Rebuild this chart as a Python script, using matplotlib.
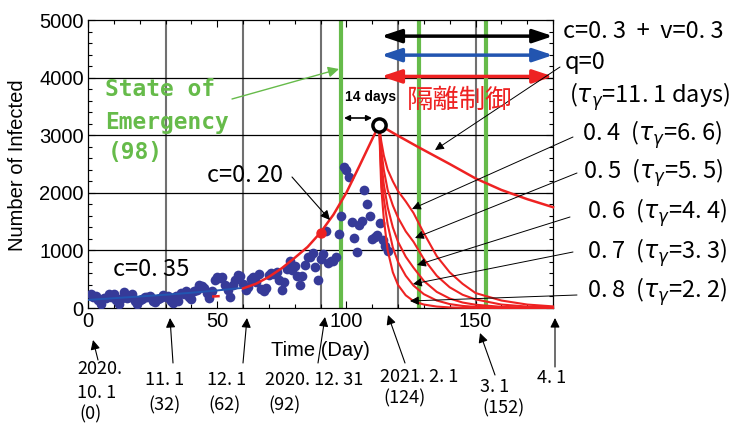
import matplotlib
matplotlib.use("Agg")
import matplotlib.pyplot as plt

plt.rcParams['font.family'] = ['Liberation Sans', 'DejaVu Sans']
JP = ['Noto Sans CJK JP', 'DejaVu Sans']

# observed daily infected (day 1 = 2020.10.1)
cases = [235, 196, 207, 143, 78, 172, 177, 248, 186, 246, 146, 78, 166, 284, 172, 184,
         235, 124, 78, 139, 150, 185, 186, 214, 113, 102, 158, 171, 221, 199, 215,
         116, 87, 209, 122, 269, 242, 294, 189, 157, 293, 317, 393, 374, 352, 255, 180,
         298, 493, 534, 522, 539, 391, 314, 186, 401, 481, 570, 561, 418, 311,
         372, 500, 533, 449, 584, 327, 299, 352, 572, 602, 595, 621, 480, 305, 460, 678,
         822, 664, 736, 556, 392, 563, 748, 888, 884, 949, 708, 481, 856, 944, 1337,
         783, 814, 816, 884, 1278, 1591, 2447, 2392, 2268, 1494, 1219, 970, 1433, 1502,
         2044, 1809, 1592, 1204, 1240, 1274, 1471, 1175, 1070, 986]
days = list(range(1, len(cases) + 1))

# model c=0.35
fit_days = [0, 10, 20, 30, 40, 50, 60]
fit_vals = [140, 170, 200, 230, 265, 305, 350]

# model c=0.20
grow_days = [60, 65, 70, 75, 80, 85, 90, 95, 100, 105, 110, 112.7]
grow_vals = [340, 420, 540, 690, 870, 1060, 1310, 1620, 2000, 2460, 2930, 3180]

peak = (112.7, 3180)

# q = 0
q0_days = [112.7, 120, 128, 140, 150, 160, 170, 180]
q0_vals = [3180, 2990, 2790, 2500, 2250, 2050, 1890, 1750]

# q = 0.4 ... 0.8
dec_days = [112.7, 113.5, 114.5, 116, 118, 120, 123, 126, 130, 135, 140, 145, 150, 160, 170, 180]
dec_q04 = [3180, 2900, 2650, 2400, 2200, 2030, 1850, 1650, 1300, 900, 620, 420, 260, 130, 60, 28]
dec_q05 = [3180, 2750, 2400, 2050, 1780, 1570, 1330, 1150, 850, 560, 360, 230, 150, 60, 25, 10]
dec_q06 = [3180, 2550, 2150, 1750, 1400, 1150, 890, 700, 470, 280, 165, 95, 57, 20, 7, 3]
dec_q07 = [3180, 2350, 1900, 1450, 1050, 800, 560, 390, 240, 130, 68, 36, 20, 6, 2, 1]
dec_q08 = [3180, 2100, 1550, 1000, 620, 400, 220, 120, 60, 25, 10, 4, 2, 0, 0, 0]

grid_x = [30, 60, 90, 120, 150]
grid_y = [1000, 2000, 3000, 4000]
green_x = [98, 128, 154]

TG = r"$\tau_\gamma$"
right_labels = ["c=0. 3  +  v=0. 3", "q=0", "(" + TG + "=11. 1 days)",
                "0. 4  (" + TG + "=6. 6)", "0. 5  (" + TG + "=5. 5)", "0. 6  (" + TG + "=4. 4)",
                "0. 7  (" + TG + "=3. 3)", "0. 8  (" + TG + "=2. 2)"]
date_lines = [["2020.", "10. 1", "(0)"], ["11. 1", "(32)"], ["12. 1", "(62)"],
              ["2020. 12. 31", "(92)"], ["2021. 2. 1", "(124)"], ["3. 1", "(152)"], ["4. 1"]]

RED = '#ee2222'
GREEN = '#66bb4a'
BLUE = '#2255b0'

W, H = 735, 425
def fp(x, y):
    return (x / W, 1 - y / H)

fig = plt.figure(figsize=(7.35, 4.25), dpi=100)
ax = fig.add_axes([88 / W, 1 - 308 / H, 465 / W, 288 / H])
ax.set_xlim(0, 180)
ax.set_ylim(0, 5000)
ax.set_xticks([0, 50, 100, 150])
ax.set_xticks(range(0, 181, 10), minor=True)
ax.set_yticks(range(0, 5001, 1000))
ax.set_yticks(range(0, 5001, 200), minor=True)
ax.tick_params(which='both', direction='in', top=True, right=True, labelsize=14.5, width=0.8)
ax.tick_params(which='major', length=5, pad=3)
ax.tick_params(which='minor', length=3)
for s in ax.spines.values():
    s.set_linewidth(0.9)

for x in grid_x:
    ax.axvline(x, color='#707070', lw=1.5, zorder=1)
for y in grid_y:
    ax.axhline(y, color='black', lw=0.9, zorder=1)
for x in green_x:
    ax.axvline(x, color=GREEN, lw=3, zorder=2)

ax.plot(days, cases, 'o', color='#363a98', ms=7, mec='none', zorder=3)
ax.plot(fit_days, fit_vals, color=BLUE, lw=1.4, zorder=4)
ax.plot(grow_days, grow_vals, color=RED, lw=1.8, zorder=4)
ax.plot([48.5, 50.5], [200, 205], color=RED, lw=1.8, zorder=4)
ax.plot(90, 1310, 'o', color=RED, ms=6.5, zorder=4)
ax.plot(q0_days, q0_vals, color=RED, lw=1.8, zorder=4, clip_on=False)
for v in [dec_q04, dec_q05, dec_q06, dec_q07, dec_q08]:
    ax.plot(dec_days, v, color=RED, lw=1.5, zorder=4, clip_on=False)
ax.plot(*peak, 'o', mfc='white', mec='black', mew=2.5, ms=9.5, zorder=6)

# double arrows at top
for yv, col in [(4720, 'black'), (4390, BLUE), (4020, RED)]:
    ax.annotate('', xy=(180, yv), xytext=(113.5, yv),
                arrowprops=dict(arrowstyle='<|-|>,head_length=0.6,head_width=0.2',
                                color=col, lw=2.5, mutation_scale=20, shrinkA=0, shrinkB=0),
                annotation_clip=False, zorder=7)

def arrow(p0, p1, col='black', lw=0.8, ms=14):
    ax.annotate('', xy=fp(*p1), xycoords='figure fraction', xytext=fp(*p0),
                textcoords='figure fraction',
                arrowprops=dict(arrowstyle='-|>', color=col, lw=lw, mutation_scale=ms,
                                shrinkA=0, shrinkB=0), zorder=8)

# 14 days
fig.text(*fp(371, 97), "14 days", fontsize=10, fontweight='bold', ha='center', va='center')
ax.annotate('', xy=fp(372, 118), xycoords='figure fraction', xytext=fp(344, 118),
            textcoords='figure fraction',
            arrowprops=dict(arrowstyle='<|-|>', color='black', lw=1.2, mutation_scale=8,
                            shrinkA=0, shrinkB=0))
fig.text(*fp(460, 100), "隔離制御", fontsize=19, color=RED, family=JP, ha='center', va='center')

# State of Emergency
for txt, x, y in [("State of", 105, 90), ("Emergency", 105, 122), ("(98)", 108, 153)]:
    fig.text(*fp(x, y), txt, fontsize=16.5, fontweight='bold', color=GREEN,
             family='DejaVu Sans Mono', ha='left', va='center')
arrow((232, 99), (339, 69), col=GREEN, lw=1, ms=16)

fig.text(*fp(151, 269), "c=0. 35", fontsize=17, family=JP, ha='center', va='center')
fig.text(*fp(245, 176), "c=0. 20", fontsize=17, family=JP, ha='center', va='center')
arrow((292, 177), (330, 220))

# right labels
label_pos = [(563, 32), (565, 63), (569, 97), (582, 135), (583, 173),
             (587, 213), (587, 253), (587, 292)]
for txt, (x, y) in zip(right_labels, label_pos):
    fig.text(*fp(x, y), txt, fontsize=17, family=JP, ha='left', va='center')
for p0, p1 in [((560, 67), (435, 150)), ((573, 137), (412, 209)), ((577, 173), (415, 238)),
               ((570, 217), (417, 265)), ((573, 252), (413, 284)), ((577, 295), (410, 301))]:
    arrow(p0, p1, lw=0.7, ms=13)

# axis titles
fig.text(*fp(320, 350), "Time (Day)", fontsize=14.5, ha='center', va='center')
fig.text(*fp(18, 165), "Number of Infected", fontsize=14.5, rotation=90, ha='center', va='center')

# date annotations
date_pos = [[(77, 369), (77, 393), (79, 414)], [(145, 380), (148, 405)], [(207, 380), (208, 405)],
            [(265, 380), (268, 405)], [(380, 377), (383, 398)], [(480, 387), (482, 408)], [(537, 378)]]
for lines, poss in zip(date_lines, date_pos):
    for t, (x, y) in zip(lines, poss):
        fig.text(*fp(x, y), t, fontsize=13, family=JP, ha='left', va='center')
for p0, p1 in [((98, 360), (93, 340)), ((173, 363), (170, 318)), ((243, 363), (247, 318)),
               ((318, 363), (325, 317)), ((405, 363), (388, 315)), ((495, 375), (480, 333)),
               ((555, 367), (555, 318))]:
    arrow(p0, p1, lw=0.8, ms=14)

fig.savefig("out.png", dpi=100)
